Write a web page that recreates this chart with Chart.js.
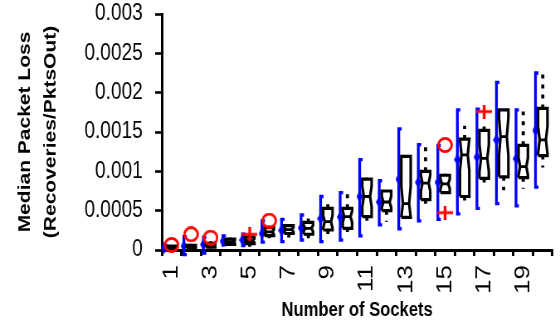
<!DOCTYPE html>
<html><head><meta charset="utf-8">
<script src="https://cdn.jsdelivr.net/npm/chart.js@4.4.0/dist/chart.umd.min.js"></script>
<style>
html,body{margin:0;padding:0;background:#fff;overflow:hidden;}
#wrap{width:675px;height:327px;transform:scale(0.8296,1);transform-origin:0 0;}
</style></head><body>
<div id="wrap"><canvas id="c" width="675" height="327"></canvas></div>
<script>
// ---- data ----
const categories = ['1','2','3','4','5','6','7','8','9','10','11','12','13','14','15','16','17','18','19','20'];
const xTickLabels = ['1','','3','','5','','7','','9','','11','','13','','15','','17','','19',''];
const yTickLabels = ['0','0.0005','0.001','0.0015','0.002','0.0025','0.003'];

// blue intervals (low, high, centre marker)
const intervalLow  = [0.0, -0.00006, -0.00004, 0.000064, 0.000055, 0.0001, 0.000106, 0.000127, 0.000106, 0.000127, 0.00018, 0.00032, 0.00027, 0.00037, 0.00039, 0.00046, 0.00053, 0.00059, 0.00056, 0.0008];
const intervalHigh = [0.00006, 0.00017, 0.00016, 0.00018, 0.0002, 0.00037, 0.00039, 0.000445, 0.00068, 0.00073, 0.00115, 0.00088, 0.00154, 0.00134, 0.00133, 0.00178, 0.00179, 0.00213, 0.00178, 0.00225];
const intervalMid  = [0.00003, 0.00005, 0.00007, 0.00011, 0.000127, 0.00021, 0.00025, 0.00028, 0.0004, 0.00042, 0.00068, 0.00061, 0.0009, 0.00086, 0.00086, 0.00115, 0.00118, 0.0014, 0.00116, 0.00152];

// notched box plots
const whiskerLow  = [0.00001, 0.000015, 0.00002, 0.00005, 0.00004, 0.000148, 0.00014, 0.00015, 0.0002, 0.00023, 0.00032, 0.00036, 0.0004, 0.00055, 0.00072, 0.00061, 0.00084, 0.00076, 0.00078, 0.00105];
const boxQ1       = [0.00002, 0.00003, 0.000035, 0.00007, 0.00008, 0.000182, 0.00021, 0.0002, 0.000254, 0.000275, 0.000424, 0.0005, 0.000415, 0.00064, 0.00073, 0.00068, 0.00091, 0.00093, 0.00092, 0.0012];
const boxMedian   = [0.000035, 0.000045, 0.00006, 0.000105, 0.00012, 0.00023, 0.00026, 0.000275, 0.00036, 0.000424, 0.00068, 0.00061, 0.00059, 0.00085, 0.00084, 0.00121, 0.001165, 0.00144, 0.00106, 0.0014];
const boxQ3       = [0.00005, 0.00006, 0.000085, 0.00014, 0.000165, 0.000284, 0.00031, 0.00035, 0.00053, 0.00053, 0.0009, 0.00075, 0.00119, 0.001, 0.00095, 0.00141, 0.00152, 0.00178, 0.00133, 0.0018];
const whiskerHigh = [0.00006, 0.00008, 0.00011, 0.00016, 0.00019, 0.00031, 0.000326, 0.0004, 0.000585, 0.00073, 0.00092, 0.00075, 0.0012, 0.00133, 0.00097, 0.00158, 0.00159, 0.00178, 0.00176, 0.00224];
const notchHalf   = [0.00001, 0.00001, 0.000015, 0.00002, 0.000025, 0.00003, 0.00003, 0.00004, 0.00008, 0.00007, 0.00013, 0.00007, 0.00022, 0.0001, 0.00006, 0.0002, 0.00017, 0.00024, 0.00011, 0.00017];

// red markers
const circleCats   = [1, 2, 3, 6, 15];
const circleValues = [0.000064, 0.0002, 0.000157, 0.000373, 0.001335];
const plusCats     = [5, 15, 17];
const plusValues   = [0.0002, 0.000475, 0.00176];

// ---- styling constants ----
const BOX_HW = 0.24, NOTCH_HW = 0.16, BLUE_DX = -0.37, CAP = 0.15;
const GAP = {x: null, y: null};

const boxPts = [], medPts = [], whiskPts = [], bluePts = [], blueMid = [];
categories.forEach((c, i) => {
  const x = i + 1;
  const q1 = boxQ1[i], q3 = boxQ3[i], m = boxMedian[i];
  const nlo = Math.max(q1, m - notchHalf[i]), nhi = Math.min(q3, m + notchHalf[i]);
  boxPts.push({x:x-BOX_HW,y:q1},{x:x+BOX_HW,y:q1},{x:x+BOX_HW,y:nlo},{x:x+NOTCH_HW,y:m},{x:x+BOX_HW,y:nhi},
              {x:x+BOX_HW,y:q3},{x:x-BOX_HW,y:q3},{x:x-BOX_HW,y:nhi},{x:x-NOTCH_HW,y:m},{x:x-BOX_HW,y:nlo},{x:x-BOX_HW,y:q1},GAP);
  medPts.push({x:x-NOTCH_HW,y:m},{x:x+NOTCH_HW,y:m},GAP);
  if (whiskerHigh[i] > q3) whiskPts.push({x:x,y:q3},{x:x,y:whiskerHigh[i]},GAP);
  if (whiskerLow[i] < q1) whiskPts.push({x:x,y:q1},{x:x,y:whiskerLow[i]},GAP);
  const bx = x + BLUE_DX;
  bluePts.push({x:bx+CAP,y:intervalHigh[i]},{x:bx,y:intervalHigh[i]},{x:bx,y:intervalLow[i]},{x:bx+CAP,y:intervalLow[i]},GAP);
  blueMid.push({x:bx,y:intervalMid[i]});
});
const circlePts = circleCats.map((c, k) => ({x:c, y:circleValues[k]}));
const plusPts = plusCats.map((c, k) => ({x:c, y:plusValues[k]}));

// custom marker images
const plusImg = document.createElement('canvas');
plusImg.width = 19; plusImg.height = 14;
(function(){ const g = plusImg.getContext('2d'); g.fillStyle = '#ff0000';
  g.fillRect(0, 5.6, 19, 2.8); g.fillRect(7.8, 0, 3.4, 14); })();
const diamondImg = document.createElement('canvas');
diamondImg.width = 8; diamondImg.height = 12;
(function(){ const g = diamondImg.getContext('2d'); g.fillStyle = '#0000ff';
  g.beginPath(); g.moveTo(4,0); g.lineTo(8,6); g.lineTo(4,12); g.lineTo(0,6); g.closePath(); g.fill(); })();
const ringImg = document.createElement('canvas');
ringImg.width = 19; ringImg.height = 16;
(function(){ const g = ringImg.getContext('2d'); g.strokeStyle = '#ff0000'; g.lineWidth = 2.8;
  g.beginPath(); g.ellipse(9.5, 8, 8, 6.6, 0, 0, Math.PI * 2); g.stroke(); })();

Chart.defaults.font.family = "'Liberation Sans', Arial, sans-serif";
Chart.defaults.color = '#000';

const lineBase = {xAxisID:'xl', yAxisID:'y', showLine:true, pointRadius:0, pointHoverRadius:0, pointHitRadius:0, tension:0, spanGaps:false, fill:false};

new Chart(document.getElementById('c'), {
  type: 'scatter',
  data: {
    labels: categories,
    datasets: [
      {label:'circles', xAxisID:'xl', yAxisID:'y', data: circlePts, showLine:false, pointStyle: ringImg, pointRadius: 8, clip:false, order:0},
      {label:'plus', xAxisID:'xl', yAxisID:'y', data: plusPts, showLine:false, pointStyle: plusImg, pointRadius: 7, clip:false, order:0},
      Object.assign({}, lineBase, {label:'medians', data: medPts, borderColor:'#000', borderWidth:2.8, order:1}),
      Object.assign({}, lineBase, {label:'boxes', data: boxPts, borderColor:'#000', borderWidth:3.2, borderJoinStyle:'miter', order:1}),
      Object.assign({}, lineBase, {label:'whiskers', data: whiskPts, borderColor:'#000', borderWidth:3.8, borderDash:[4,6], borderCapStyle:'butt', order:2}),
      {label:'intervalMid', xAxisID:'xl', yAxisID:'y', data: blueMid, showLine:false, pointStyle: diamondImg, pointRadius: 5, clip:false, order:3},
      Object.assign({}, lineBase, {label:'intervals', data: bluePts, borderColor:'#0000ff', borderWidth:3.3, clip:false, order:4})
    ]
  },
  options: {
    responsive: false,
    animation: false,
    events: [],
    layout: {padding: {left: 0, right: 3, top: 14, bottom: 0}},
    plugins: {legend: {display: false}, tooltip: {enabled: false}},
    scales: {
      x: {
        type: 'category', labels: categories, position: 'bottom', offset: true,
        grid: {offset: true, drawOnChartArea: false, drawTicks: true, tickLength: 6, tickWidth: 3, tickColor: '#000'},
        border: {display: true, color: '#000', width: 3},
        ticks: {autoSkip: false, minRotation: 90, maxRotation: 90, padding: 9, color: '#000',
                font: {size: 26}, callback: (v, i) => xTickLabels[i]},
        title: {display: true, text: 'Number of Sockets', color: '#000', font: {size: 20, weight: 'bold'}, padding: {top: 0, bottom: 5}},
        afterFit: s => { s.height = 77; s.paddingLeft = 0; s.paddingRight = 0; }
      },
      xl: {type: 'linear', min: 0.5, max: 20.5, display: false},
      y: {
        type: 'linear', min: 0, max: 0.003, position: 'left',
        grid: {drawOnChartArea: false, drawTicks: true, tickLength: 8, tickWidth: 2.6, tickColor: '#000'},
        border: {display: true, color: '#000', width: 3},
        ticks: {stepSize: 0.0005, padding: 15, color: '#000', font: {size: 23},
                callback: v => yTickLabels[Math.round(v / 0.0005)]},
        title: {display: true, text: ['Median Packet Loss', '(Recoveries/PktsOut)'], color: '#000',
                font: {size: 21, weight: 'bold', lineHeight: 1.5}, padding: {top: 14, bottom: 0}},
        afterFit: s => { s.width = 195; s.paddingTop = 0; s.paddingBottom = 0; }
      }
    }
  }
});
</script>
</body></html>
